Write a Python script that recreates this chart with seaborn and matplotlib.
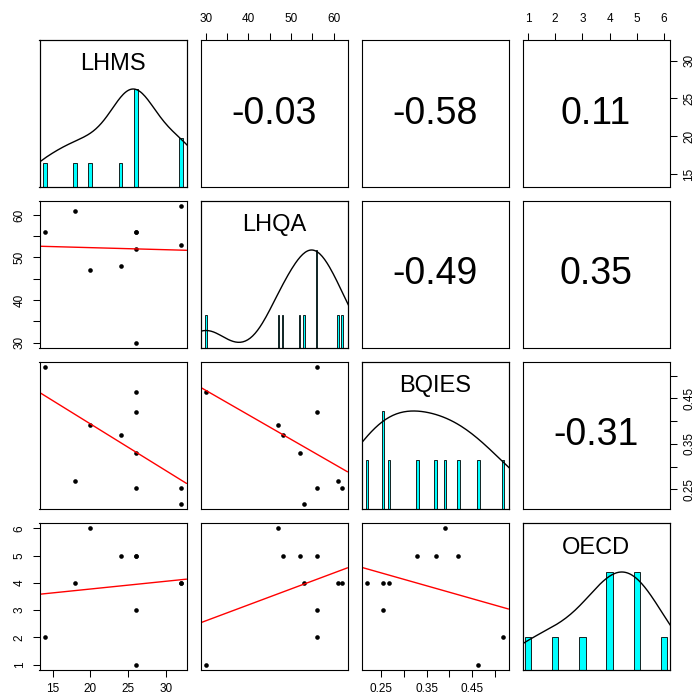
import numpy as np
import pandas as pd
import matplotlib
matplotlib.use("Agg")
import matplotlib.pyplot as plt
import seaborn as sns

variables = ["LHMS", "LHQA", "BQIES", "OECD"]
lhms = [14, 18, 20, 24, 26, 26, 26, 26, 32, 32]
lhqa = [56, 61, 47, 48, 30, 56, 52, 56, 62, 53]
bqies = [0.518, 0.268, 0.391, 0.370, 0.464, 0.420, 0.330, 0.254, 0.254, 0.219]
oecd = [2, 4, 6, 5, 1, 5, 5, 3, 4, 4]
data = {"LHMS": lhms, "LHQA": lhqa, "BQIES": bqies, "OECD": oecd}

# correlations printed in the upper panels
cor_text = {(0, 1): "-0.03", (0, 2): "-0.58", (0, 3): "0.11",
            (1, 2): "-0.49", (1, 3): "0.35", (2, 3): "-0.31"}

axis_ticks = {
    "LHMS": [15, 20, 25, 30],
    "LHQA": [30, 35, 40, 45, 50, 55, 60],
    "BQIES": [0.25, 0.30, 0.35, 0.40, 0.45, 0.50],
    "OECD": [1, 2, 3, 4, 5, 6],
}
axis_labels = {
    "LHMS": ["15", "20", "25", "30"],
    "LHQA": ["30", "", "40", "", "50", "", "60"],
    "BQIES": ["0.25", "", "0.35", "", "0.45", ""],
    "OECD": ["1", "2", "3", "4", "5", "6"],
}

sns.set_style("white")
plt.rcParams["font.family"] = ["Liberation Sans", "DejaVu Sans"]
plt.rcParams["axes.edgecolor"] = "black"
plt.rcParams["axes.linewidth"] = 0.8
plt.rcParams["text.color"] = "black"
plt.rcParams["xtick.color"] = "black"
plt.rcParams["ytick.color"] = "black"
plt.rcParams["xtick.labelcolor"] = "black"
plt.rcParams["ytick.labelcolor"] = "black"


def var_limits(v):
    lo, hi = min(v), max(v)
    d = (hi - lo) * 0.04
    return lo - d, hi + d


def r_bandwidth_factor(v):
    # bw.nrd * adjust 1.2, expressed as a factor of the sd
    v = np.asarray(v, dtype=float)
    sd = v.std(ddof=1)
    q1, q3 = np.percentile(v, [25, 75])
    bw = 1.06 * min(sd, (q3 - q1) / 1.34) * len(v) ** -0.2 * 1.2
    return bw / sd


W, H = 696, 697
fig = plt.figure(figsize=(W / 100, H / 100), dpi=100)
n = len(variables)
size = 147
step = 161

for i, yname in enumerate(variables):
    for j, xname in enumerate(variables):
        left = 39.5 + step * j
        top = 40 + step * i
        ax = fig.add_axes([left / W, 1 - (top + size) / H, size / W, size / H])
        xlim = var_limits(data[xname])
        ax.set_xlim(xlim)

        if i == j:
            vals = np.asarray(data[xname], dtype=float)
            u, counts = np.unique(vals, return_counts=True)
            hw = np.min(np.diff(u)) * (len(u) - 1) / 41
            edges = sorted(list(u - hw) + list(u + hw))
            df = pd.DataFrame({"v": vals, "w": 1 / counts.max()})
            sns.histplot(data=df, x="v", weights="w", bins=edges,
                         color="cyan", edgecolor="black", linewidth=0.6, alpha=1, ax=ax)
            ax.set_ylim(0, 1.5)
            ax.text(0.5, 5 / 6, xname, transform=ax.transAxes, ha="center", va="center",
                    fontsize=17, color="black")
            ax2 = ax.twinx()
            sns.kdeplot(data=df, x="v", bw_method=r_bandwidth_factor(vals), cut=3,
                        color="black", linewidth=1, ax=ax2)
            ymax = ax2.lines[-1].get_ydata().max()
            ax2.set_ylim(0, 1.5 * ymax)
            ax2.set_xlim(xlim)
            ax2.set_yticks([])
            ax2.set_ylabel("")
            ax2.tick_params(left=False, right=False, labelleft=False, labelright=False)
        elif i > j:
            sns.regplot(x=data[xname], y=data[yname], ax=ax, ci=None, truncate=False,
                        scatter_kws=dict(s=11, color="black", linewidths=0, alpha=1),
                        line_kws=dict(color="red", linewidth=1))
            ax.set_xlim(xlim)
            ax.set_ylim(var_limits(data[yname]))
        else:
            ax.set_ylim(var_limits(data[yname]))
            ax.text(0.5, 0.5, cor_text[(i, j)], transform=ax.transAxes,
                    ha="center", va="center", fontsize=27, color="black")

        ax.set_xlabel("")
        ax.set_ylabel("")
        ax.tick_params(which="both", bottom=False, top=False, left=False, right=False,
                       labelbottom=False, labeltop=False, labelleft=False, labelright=False,
                       direction="out", length=5, width=0.75, labelsize=8.5)
        ax.set_xticks([])
        ax.set_yticks([])

        if i == 0 and j % 2 == 1:
            ax.set_xticks(axis_ticks[xname], axis_labels[xname])
            ax.tick_params(axis="x", top=True, labeltop=True, pad=6)
        if i == n - 1 and j % 2 == 0:
            ax.set_xticks(axis_ticks[xname], axis_labels[xname])
            ax.tick_params(axis="x", bottom=True, labelbottom=True, pad=4.5)
        if j == 0 and i % 2 == 1:
            ax.set_yticks(axis_ticks[yname], axis_labels[yname])
            ax.tick_params(axis="y", left=True, labelleft=True, pad=5)
            for lab in ax.get_yticklabels():
                lab.set_rotation(90)
                lab.set_va("center")
        if j == n - 1 and i % 2 == 0:
            ax.set_yticks(axis_ticks[yname], axis_labels[yname])
            ax.tick_params(axis="y", right=True, labelright=True, pad=5)
            for lab in ax.get_yticklabels():
                lab.set_rotation(90)
                lab.set_va("center")
        ax.set_xlim(xlim)

plt.savefig("out.png", dpi=100)
